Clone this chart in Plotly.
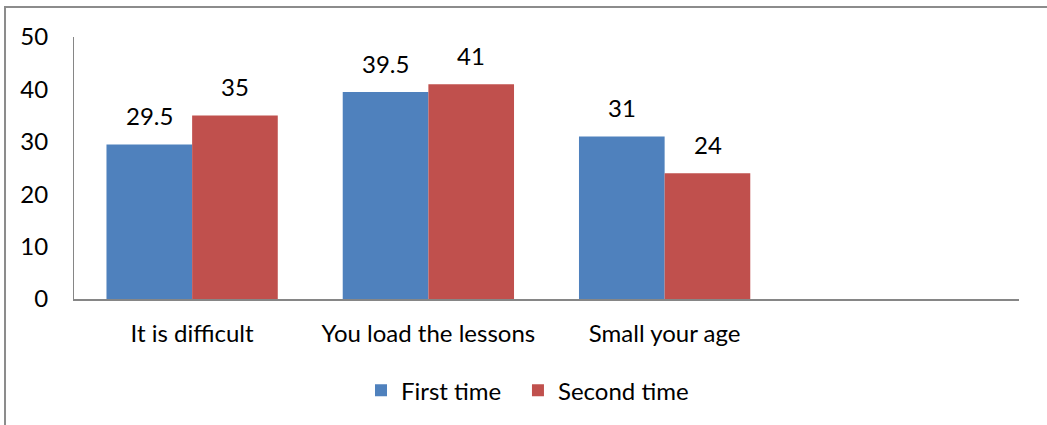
import plotly.graph_objects as go

categories = ["It is difficult", "You load the lessons", "Small your age"]
first_time = [29.5, 39.5, 31]
second_time = [35, 41, 24]
y_ticks = [0, 10, 20, 30, 40, 50]

BLUE = "#4F81BD"
RED = "#C0504D"
AXIS = "#868686"
FONT = "Lato"
FS = 24

x_pos = list(range(len(categories)))

fig = go.Figure()
fig.add_trace(go.Bar(name="First time", x=x_pos, y=first_time, legend="legend",
                     marker=dict(color=BLUE, line=dict(width=0))))
fig.add_trace(go.Bar(name="Second time", x=x_pos, y=second_time, legend="legend2",
                     marker=dict(color=RED, line=dict(width=0))))

# value labels above each bar
for vals, shift in ((first_time, -43), (second_time, 43)):
    for xi, v in zip(x_pos, vals):
        fig.add_annotation(x=xi, y=v, text=f"{v:g}", showarrow=False,
                           xshift=shift, yshift=29, yanchor="middle",
                           font=dict(family=FONT, size=FS, color="black"))

# outer chart frame
fig.add_shape(type="rect", xref="paper", yref="paper",
              x0=-0.073, x1=1.2, y0=-1.0, y1=1.1145,
              line=dict(color="#8C8C8C", width=2), layer="below")

legend_style = dict(orientation="h", xanchor="left", y=-0.35, yanchor="middle",
                    font=dict(family=FONT, size=FS), itemwidth=30,
                    bgcolor="rgba(0,0,0,0)")

fig.update_layout(
    width=1047, height=425,
    margin=dict(l=74, r=28, t=37, b=126),
    paper_bgcolor="white", plot_bgcolor="white",
    barmode="group", bargap=0.275, bargroupgap=0,
    font=dict(family=FONT, size=FS, color="black"),
    showlegend=True,
    legend=dict(x=0.3037, **legend_style),
    legend2=dict(x=0.4698, **legend_style),
    xaxis=dict(range=[-0.5, 3.5], tickvals=x_pos, ticktext=categories,
               showgrid=False, zeroline=False, showline=True,
               linecolor=AXIS, linewidth=2, ticks="", ticklabelstandoff=12),
    yaxis=dict(range=[0, 50], tickvals=y_ticks, showgrid=False, zeroline=False,
               showline=True, linecolor=AXIS, linewidth=1, ticks="",
               ticklabelstandoff=20),
)

fig.write_html("out.html")
